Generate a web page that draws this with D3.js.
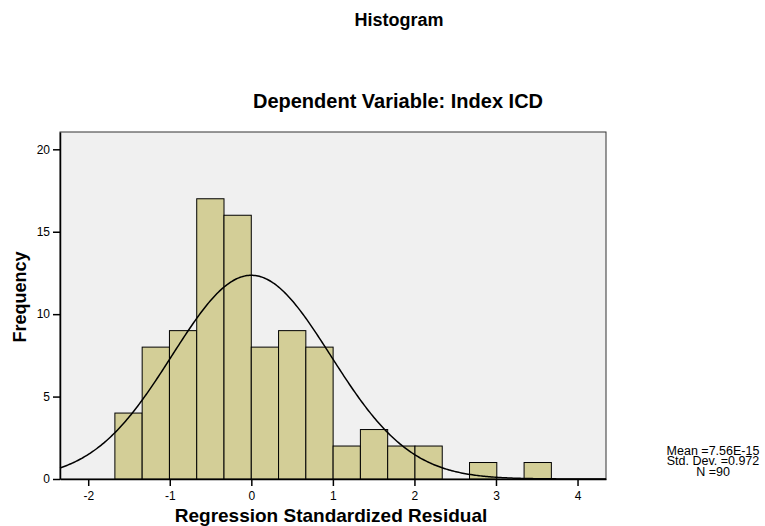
<!DOCTYPE html>
<html>
<head>
<meta charset="utf-8">
<script src="https://cdn.jsdelivr.net/npm/d3@7"></script>
<style>
  html, body { margin: 0; padding: 0; background: #ffffff; }
  svg { display: block; font-family: "Liberation Sans", Arial, sans-serif; }
</style>
</head>
<body>
<svg id="chart" width="765" height="526"></svg>
<script>
// ---- data ----
const binStart = -1.673;
const binWidth = 0.3345;
const counts = [4, 8, 9, 17, 16, 8, 9, 8, 2, 3, 2, 2, 0, 1, 0, 1];
const xTicks = [-2, -1, 0, 1, 2, 3, 4];
const yTicks = [0, 5, 10, 15, 20];
const statMean = 7.56e-15;
const statSD = 0.972;
const statN = 90;
const legendLines = ["Mean =7.56E-15", "Std. Dev. =0.972", "N =90"];

const bins = counts.map((c, i) => ({ x0: binStart + i * binWidth, x1: binStart + (i + 1) * binWidth, count: c }));

// ---- layout ----
const svg = d3.select("#chart");
const L = 60, R = 606, T = 132, B = 479;
const x = d3.scaleLinear().domain([-2.346, 4.349]).range([L, R]);
const y = d3.scaleLinear().domain([0, 21.05]).range([B, T]);

// titles
svg.append("text").attr("x", 399).attr("y", 26).attr("text-anchor", "middle")
  .attr("font-size", 18).attr("font-weight", "bold").text("Histogram");
svg.append("text").attr("x", 398).attr("y", 108).attr("text-anchor", "middle")
  .attr("font-size", 20).attr("font-weight", "bold").text("Dependent Variable: Index ICD");

// plot background
svg.append("rect").attr("x", L).attr("y", T).attr("width", R - L).attr("height", B - T)
  .attr("fill", "#f0f0f0").attr("stroke", "#333333").attr("stroke-width", 1);

// bars
svg.append("g").selectAll("rect").data(bins.filter(d => d.count > 0)).join("rect")
  .attr("x", d => x(d.x0)).attr("width", d => x(d.x1) - x(d.x0))
  .attr("y", d => y(d.count)).attr("height", d => y(0) - y(d.count))
  .attr("fill", "#d3ce97").attr("stroke", "#000").attr("stroke-width", 1);

// normal curve (defined by the reported mean, SD and N)
const dens = v => statN * binWidth / (statSD * Math.sqrt(2 * Math.PI)) * Math.exp(-0.5 * Math.pow((v - statMean) / statSD, 2));
const xs = d3.range(0, 401).map(i => -2.346 + i * (4.349 + 2.346) / 400);
svg.append("path").datum(xs)
  .attr("d", d3.line().x(v => x(v)).y(v => y(dens(v))))
  .attr("fill", "none").attr("stroke", "#000").attr("stroke-width", 1.5);

// axes
const fmt = d => String(d);
const xAxis = svg.append("g").attr("transform", `translate(0,${B})`)
  .call(d3.axisBottom(x).tickValues(xTicks).tickFormat(fmt).tickSize(7).tickSizeOuter(0).tickPadding(5));
const yAxis = svg.append("g").attr("transform", `translate(${L},0)`)
  .call(d3.axisLeft(y).tickValues(yTicks).tickFormat(fmt).tickSize(7).tickSizeOuter(0).tickPadding(3));
[xAxis, yAxis].forEach(g => {
  g.select(".domain").attr("stroke", "#000").attr("stroke-width", 1.5);
  g.selectAll(".tick line").attr("stroke", "#000").attr("stroke-width", 1.5);
  g.selectAll(".tick text").attr("font-size", 12).attr("fill", "#000")
    .attr("font-family", "'Liberation Sans', Arial, sans-serif");
});

// axis titles
svg.append("text").attr("transform", "translate(26,297) rotate(-90)").attr("text-anchor", "middle")
  .attr("font-size", 18).attr("font-weight", "bold").text("Frequency");
svg.append("text").attr("x", 331).attr("y", 522).attr("text-anchor", "middle")
  .attr("font-size", 19).attr("font-weight", "bold").text("Regression Standardized Residual");

// legend
svg.append("g").selectAll("text").data(legendLines).join("text")
  .attr("x", 713).attr("y", (d, i) => 454.5 + i * 10.5).attr("text-anchor", "middle")
  .attr("font-size", 12.5).text(d => d);
</script>
</body>
</html>
